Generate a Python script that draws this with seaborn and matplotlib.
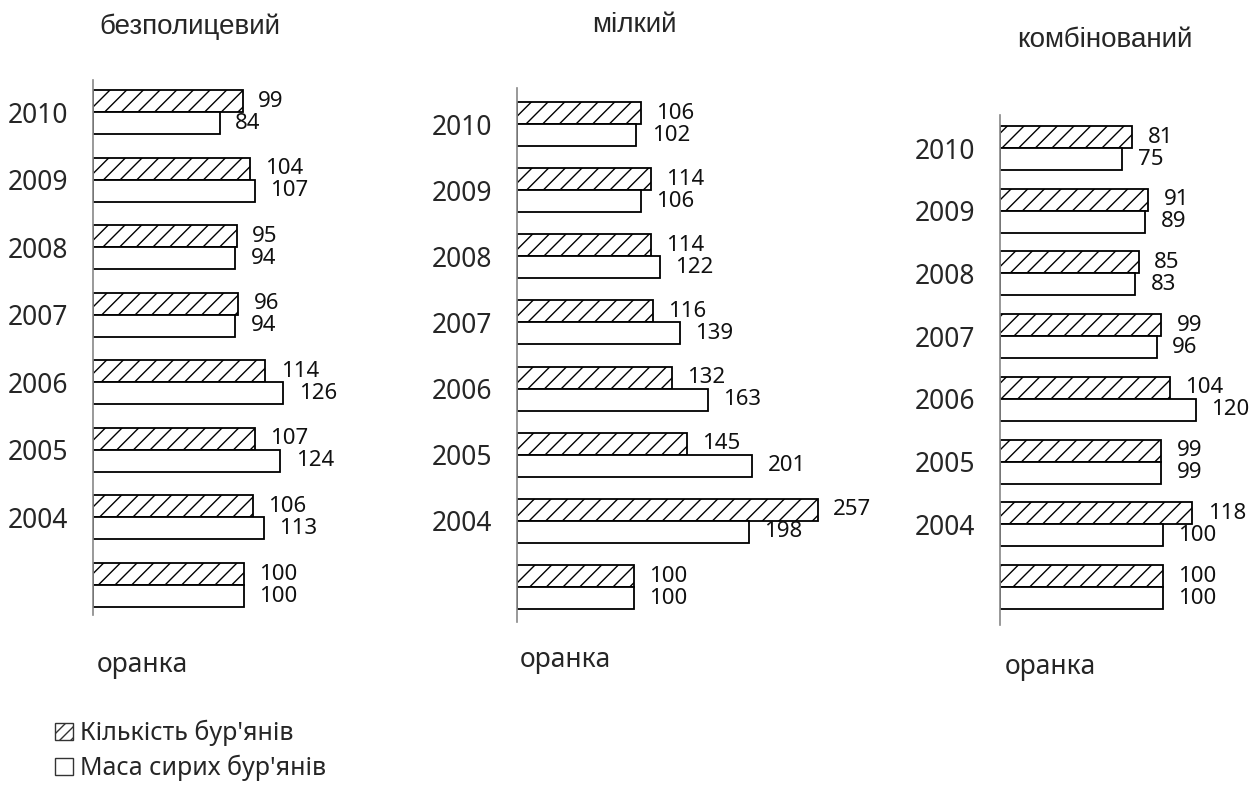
import numpy as np
import pandas as pd
import matplotlib
matplotlib.use("Agg")
import matplotlib.pyplot as plt
from matplotlib.patches import Patch
import seaborn as sns

# категорії зверху вниз (остання, без підпису — оранка)
years = ["2010", "2009", "2008", "2007", "2006", "2005", "2004", ""]
series = ["Кількість бур'янів", "Маса сирих бур'янів"]
titles = ["безполицевий", "мілкий", "комбінований"]

# значення, у тому ж порядку що й years
count_bezpol = [99, 104, 95, 96, 114, 107, 106, 100]
mass_bezpol = [84, 107, 94, 94, 126, 124, 113, 100]
count_milk = [106, 114, 114, 116, 132, 145, 257, 100]
mass_milk = [102, 106, 122, 139, 163, 201, 198, 100]
count_komb = [81, 91, 85, 99, 104, 99, 118, 100]
mass_komb = [75, 89, 83, 96, 120, 99, 100, 100]

sns.set_theme(style="white")
plt.rcParams["font.family"] = ["Noto Sans", "DejaVu Sans"]
plt.rcParams["hatch.linewidth"] = 1.0
plt.rcParams["hatch.color"] = "#333333"

W, H = 1258, 785
fig = plt.figure(figsize=(W / 100, H / 100), dpi=100)

# розміщення панелей у пікселях
layout = [
    dict(left=93, top=80, bottom=615, xmax=170, width=257, c0=112, c7=585),
    dict(left=517, top=88, bottom=622, xmax=280, width=328, c0=124, c7=587),
    dict(left=1000, top=115, bottom=625, xmax=160, width=261, c0=148, c7=587),
]
data = [(count_bezpol, mass_bezpol), (count_milk, mass_milk), (count_komb, mass_komb)]
title_pos = [(190, 27), (634, 25), (1105, 40)]
orank_pos = [(97, 665), (520, 660), (1005, 667)]

for lay, (cnt, mas), title, tp, op in zip(layout, data, titles, title_pos, orank_pos):
    rect = [lay["left"] / W, 1 - lay["bottom"] / H,
            lay["width"] / W, (lay["bottom"] - lay["top"]) / H]
    ax = fig.add_axes(rect)
    df = pd.DataFrame({
        "year": years * 2,
        "value": cnt + mas,
        "series": [series[0]] * len(years) + [series[1]] * len(years),
    })
    step = (lay["c7"] - lay["c0"]) / 7
    sns.barplot(data=df, y="year", x="value", hue="series", order=years,
                hue_order=series, palette=["white", "white"], edgecolor="black",
                linewidth=1.3, width=22 * 2 / step, orient="h", ax=ax, legend=False)
    for bar in ax.containers[0]:
        bar.set_hatch("//")
    for c in ax.containers:
        ax.bar_label(c, padding=11, fontsize=16, color="#111111")
    ax.set_xlim(0, lay["xmax"])
    ax.set_ylim(7 + (lay["bottom"] - lay["c7"]) / step,
                -(lay["c0"] - lay["top"]) / step)
    ax.set_xlabel("")
    ax.set_ylabel("")
    ax.set_xticks([])
    ax.tick_params(axis="y", length=0, pad=18, labelsize=19)
    for s in ["top", "right", "bottom"]:
        ax.spines[s].set_visible(False)
    ax.spines["left"].set_color("#888888")
    ax.spines["left"].set_linewidth(1.2)
    ax.patch.set_alpha(0)
    fig.text(tp[0] / W, 1 - tp[1] / H, title, ha="center", va="center",
             fontsize=20, family=["Liberation Sans", "DejaVu Sans"])
    fig.text(op[0] / W, 1 - op[1] / H, "оранка", ha="left", va="center",
             fontsize=19)

handles = [Patch(facecolor="white", edgecolor="#333333", hatch="///", linewidth=1),
           Patch(facecolor="white", edgecolor="#333333", linewidth=1)]
fig.legend(handles, series, loc="upper left", bbox_to_anchor=(45 / W, 1 - 710 / H),
           frameon=False, fontsize=18, handlelength=0.7, handleheight=0.7,
           handletextpad=0.3, labelspacing=0.35, borderaxespad=0)

fig.savefig("out.png", dpi=100, facecolor="white")
